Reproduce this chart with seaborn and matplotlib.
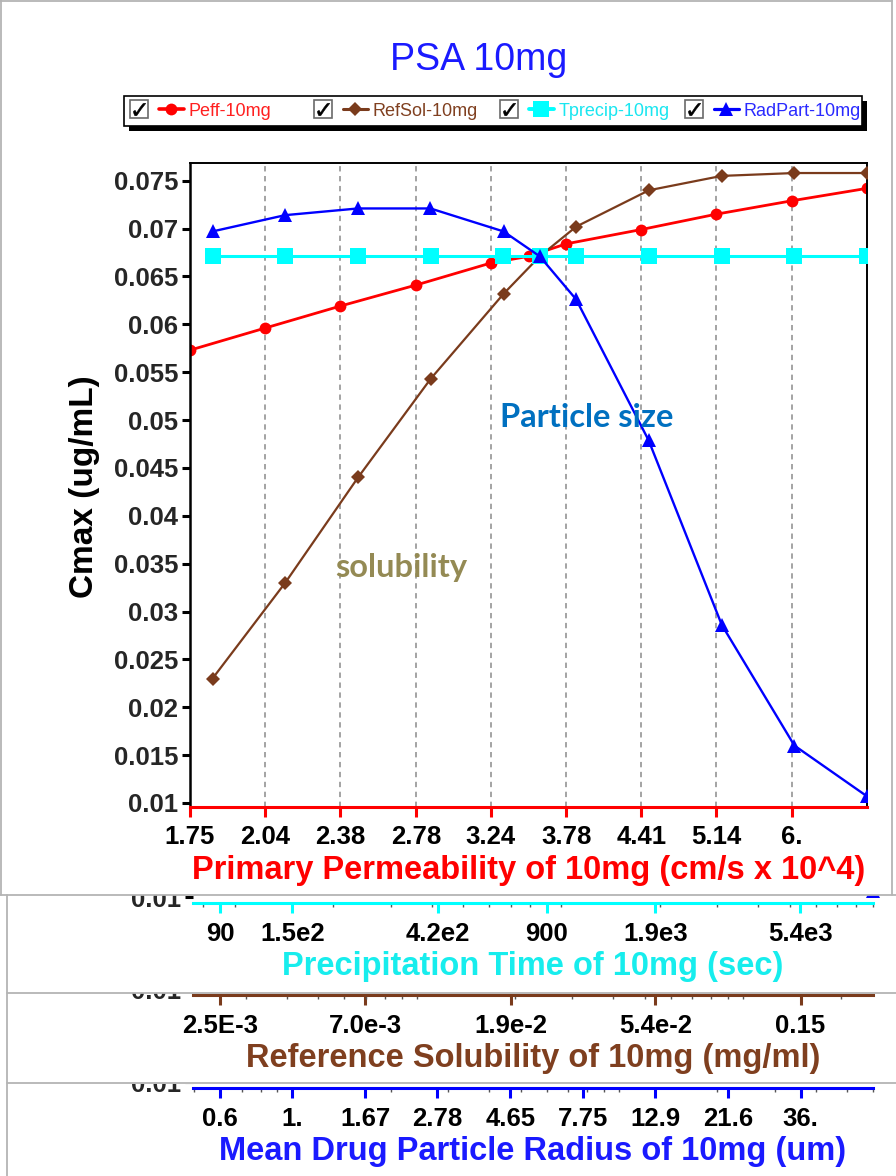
import matplotlib
matplotlib.use("Agg")
import numpy as np
import matplotlib.pyplot as plt
import seaborn as sns
from matplotlib.lines import Line2D
from matplotlib.patches import Rectangle
from matplotlib.transforms import Bbox, TransformedBbox, blended_transform_factory
from matplotlib.ticker import NullLocator, NullFormatter, LogLocator
from matplotlib.legend_handler import HandlerTuple

sns.set_style("white")
plt.rcParams['font.family'] = ['Liberation Sans', 'DejaVu Sans']
plt.rcParams['mathtext.fontset'] = 'dejavusans'

# ---------------- data ----------------
chart_title = "PSA 10mg"
y_title = "Cmax (ug/mL)"
series_names = ["Peff-10mg", "RefSol-10mg", "Tprecip-10mg", "RadPart-10mg"]

peff_x = [1.75, 2.04, 2.38, 2.78, 3.24, 3.5, 3.78, 4.41, 5.14, 6.0, 7.0]
peff_cmax = [0.0573, 0.0596, 0.0619, 0.0641, 0.0664, 0.0671, 0.0684, 0.0699, 0.0715, 0.0729, 0.0742]

refsol_x = [0.0025, 0.00417, 0.00696, 0.0116, 0.0194, 0.025, 0.0323, 0.0539, 0.0899, 0.150, 0.25]
refsol_cmax = [0.0230, 0.0330, 0.0440, 0.0543, 0.0632, 0.0671, 0.0702, 0.0740, 0.0755, 0.0758, 0.0758]

tprecip_x = [90, 150, 250, 418, 697, 900, 1162, 1939, 3234, 5394, 9000]
tprecip_cmax = [0.0671, 0.0671, 0.0671, 0.0671, 0.0671, 0.0671, 0.0671, 0.0671, 0.0671, 0.0671, 0.0671]

radpart_x = [0.6, 1.0, 1.67, 2.78, 4.65, 6.0, 7.75, 12.9, 21.6, 36.0, 60.0]
radpart_cmax = [0.0697, 0.0714, 0.0721, 0.0721, 0.0697, 0.0671, 0.0626, 0.0479, 0.0286, 0.0160, 0.0107]

y_ticks = [0.01, 0.015, 0.02, 0.025, 0.03, 0.035, 0.04, 0.045, 0.05, 0.055, 0.06, 0.065, 0.07, 0.075]
y_tick_labels = ["0.01", "0.015", "0.02", "0.025", "0.03", "0.035", "0.04", "0.045", "0.05",
                 "0.055", "0.06", "0.065", "0.07", "0.075"]

peff_ticks = [1.75, 2.04, 2.38, 2.78, 3.24, 3.78, 4.41, 5.14, 6.0]
peff_tick_labels = ["1.75", "2.04", "2.38", "2.78", "3.24", "3.78", "4.41", "5.14", "6."]
tprecip_ticks = [90, 150, 418, 900, 1939, 5394]
tprecip_tick_labels = ["90", "1.5e2", "4.2e2", "900", "1.9e3", "5.4e3"]
refsol_ticks = [0.0025, 0.00696, 0.0194, 0.0539, 0.150]
refsol_tick_labels = ["2.5E-3", "7.0e-3", "1.9e-2", "5.4e-2", "0.15"]
radpart_ticks = [0.6, 1.0, 1.67, 2.78, 4.65, 7.75, 12.9, 21.6, 36.0]
radpart_tick_labels = ["0.6", "1.", "1.67", "2.78", "4.65", "7.75", "12.9", "21.6", "36."]

peff_axis_title = "Primary Permeability of 10mg (cm/s x 10^4)"
tprecip_axis_title = "Precipitation Time of 10mg (sec)"
refsol_axis_title = "Reference Solubility of 10mg (mg/ml)"
radpart_axis_title = "Mean Drug Particle Radius of 10mg (um)"

note_particle = "Particle size"
note_solubility = "solubility"

# ---------------- style ----------------
RED = '#ff0000'
BROWN = '#7a3b1c'
CYAN = '#00ffff'
BLUE = '#0000ff'
TICK_FS = 18.5
LABEL_FS = 23.5

W, H, DPI = 896, 1176, 100
PPU = 9574.0   # pixels per Cmax unit (shared vertical scale)

fig = plt.figure(figsize=(W / DPI, H / DPI), dpi=DPI, facecolor='white')


def rect(l, t, r, b):
    return [l / W, 1 - b / H, (r - l) / W, (b - t) / H]


def log_xlim(xs, left_px, first_px, right_px):
    lo, hi = min(xs), max(xs)
    per_px = np.log10(hi / lo) / (right_px - first_px)
    return lo / 10 ** (per_px * (first_px - left_px)), hi


series_style = {
    'peff': dict(color=RED, marker='o', markersize=8.5, linewidth=2.0),
    'refsol': dict(color=BROWN, marker='D', markersize=7, linewidth=1.6),
    'tprecip': dict(color=CYAN, marker='s', markersize=11, linewidth=2.2),
    'radpart': dict(color=BLUE, marker='^', markersize=10, linewidth=1.7),
}

# ---------------- main axes ----------------
ML, MR, MT, MB = 190, 867, 163.3, 806.5
ax = fig.add_axes(rect(ML, MT, MR, MB))
ax.set_xscale('log')
y0 = 0.01 - 3.5 / PPU
main_ylim = (y0, y0 + (MB - MT) / PPU)

sns.lineplot(x=peff_x, y=peff_cmax, ax=ax, markeredgewidth=0, **series_style['peff'])
ax.set_xlim(peff_x[0], peff_x[-1])
ax.set_ylim(*main_ylim)


def add_twin(base, xs, ys, style, left_px, first_px, right_px):
    tw = base.twiny()
    tw.set_xscale('log')
    sns.lineplot(x=xs, y=ys, ax=tw, markeredgewidth=0, **style)
    tw.set_xlim(*log_xlim(xs, left_px, first_px, right_px))
    tw.xaxis.set_visible(False)
    for sp in tw.spines.values():
        sp.set_visible(False)
    tw.set_xlabel('')
    tw.set_ylabel('')
    return tw


add_twin(ax, refsol_x, refsol_cmax, series_style['refsol'], ML, 212.5, MR)
add_twin(ax, tprecip_x, tprecip_cmax, series_style['tprecip'], ML, 212.5, MR)
add_twin(ax, radpart_x, radpart_cmax, series_style['radpart'], ML, 212.5, MR)
ax.set_ylim(*main_ylim)

ax.set_xticks(peff_ticks, peff_tick_labels, fontsize=TICK_FS, fontweight='bold')
ax.xaxis.set_minor_locator(NullLocator())
ax.set_yticks(y_ticks, y_tick_labels, fontsize=TICK_FS, fontweight='bold')
ax.tick_params(axis='x', which='major', direction='out', length=7, width=2.2, color=RED,
               labelcolor='black', pad=6.5, bottom=True, top=False)
ax.tick_params(axis='y', direction='out', length=6, width=2.2, color='black', pad=2.5,
               left=True, right=False)
ax.grid(True, axis='x', which='major', color='#8a8a8a', linestyle=(0, (3.5, 3)), linewidth=1.1)
ax.grid(False, axis='y')
for side in ('left', 'top', 'right'):
    ax.spines[side].set_color('black')
ax.spines['left'].set_linewidth(1.8)
ax.spines['top'].set_linewidth(1.4)
ax.spines['right'].set_linewidth(1.4)
ax.spines['bottom'].set_color(RED)
ax.spines['bottom'].set_linewidth(2.2)
ax.set_ylabel('')
ax.set_xlabel(peff_axis_title, color=RED, fontsize=LABEL_FS, fontweight='bold')
ax.xaxis.set_label_coords(0.5, 1 - (MB + 63.5) / H,
                          transform=blended_transform_factory(ax.transAxes, fig.transFigure))
ax.xaxis.label.set_va('center')

# ---------------- lower axis strips ----------------
SL, SR, S_FIRST = 193, 873, 220
STRIP_LIFT = 6.0   # px between strip x-axis line and the 0.01 level


def add_strip(border_y, spine_y, next_border, xs, ys, ticks, labels, color, label_color, title, own_blue):
    sax = fig.add_axes(rect(SL, border_y - 14, SR, spine_y))
    sax.set_xscale('log')
    clip = TransformedBbox(Bbox.from_extents(7 / W, 1 - next_border / H, 1.0, 1 - (border_y + 0.5) / H),
                           fig.transFigure)
    if own_blue:
        sns.lineplot(x=xs, y=ys, ax=sax, markeredgewidth=0, **series_style['radpart'])
        holder = sax
    else:
        holder = add_twin(sax, radpart_x, radpart_cmax, series_style['radpart'], SL, S_FIRST, SR)
    for ln in holder.lines:
        ln.set_clip_box(clip)
    sax.set_xlim(*log_xlim(xs, SL, S_FIRST, SR))
    yb = 0.01 - STRIP_LIFT / PPU
    ylim = (yb, yb + (spine_y - border_y + 14) / PPU)
    sax.set_ylim(*ylim)
    holder.set_ylim(*ylim)
    sax.patch.set_alpha(0)
    sax.grid(False)
    for side in ('top', 'right', 'left'):
        sax.spines[side].set_visible(False)
    sax.spines['bottom'].set_color(color)
    sax.spines['bottom'].set_linewidth(2.2)
    sax.set_xticks(ticks, labels, fontsize=TICK_FS, fontweight='bold')
    sax.xaxis.set_minor_locator(LogLocator(base=10, subs=np.arange(1, 10) * 1.0, numticks=60))
    sax.xaxis.set_minor_formatter(NullFormatter())
    sax.tick_params(axis='x', which='major', direction='out', length=7, width=2.2, color=color,
                    labelcolor='black', pad=6.5, bottom=True, top=False)
    sax.tick_params(axis='x', which='minor', direction='out', length=3, width=1.0, color='#555555',
                    bottom=True, top=False)
    sax.set_yticks([0.01], ['0.01'], fontsize=TICK_FS, fontweight='bold')
    sax.tick_params(axis='y', direction='out', length=6, width=2.2, color='black', pad=2.5,
                    left=True, right=False)
    sax.set_ylabel('')
    sax.set_xlabel(title, color=label_color, fontsize=LABEL_FS, fontweight='bold')
    sax.xaxis.set_label_coords(0.5, 1 - (spine_y + 63.5) / H,
                               transform=blended_transform_factory(sax.transAxes, fig.transFigure))
    sax.xaxis.label.set_va('center')
    for t in sax.yaxis.get_major_ticks():
        t.label1.set_clip_box(clip)
        t.label1.set_clip_on(True)
        t.tick1line.set_clip_box(clip)
        t.tick1line.set_clip_on(True)
    return sax


add_strip(894.5, 903.3, 992.7, tprecip_x, tprecip_cmax, tprecip_ticks, tprecip_tick_labels,
          CYAN, '#17eded', tprecip_axis_title, False)
add_strip(992.7, 995.3, 1083.3, refsol_x, refsol_cmax, refsol_ticks, refsol_tick_labels,
          BROWN, '#7f3f1f', refsol_axis_title, False)
add_strip(1083.3, 1088.3, H, radpart_x, radpart_cmax, radpart_ticks, radpart_tick_labels,
          BLUE, '#1a1aff', radpart_axis_title, True)

# ---------------- panel borders ----------------
BORDER = '#b4b4b4'


def hline(y, x0, x1):
    fig.add_artist(Line2D([x0 / W, x1 / W], [1 - y / H, 1 - y / H], transform=fig.transFigure,
                          color=BORDER, linewidth=1.3))


def vline(x, y0_, y1_):
    fig.add_artist(Line2D([x / W, x / W], [1 - y0_ / H, 1 - y1_ / H], transform=fig.transFigure,
                          color=BORDER, linewidth=1.3))


hline(0.7, 0, 892)
vline(1.0, 0, 894.5)
vline(892, 0, 894.5)
hline(894.5, 0, 896)
hline(992.7, 7, 896)
hline(1083.3, 7, 896)
vline(7, 894.5, H)

# ---------------- titles & notes ----------------
fig.text(479 / W, 1 - 70 / H, chart_title, ha='center', va='baseline', fontsize=27,
         color='#1a1aff')
fig.text(85 / W, 1 - 487 / H, y_title, rotation=90, ha='center', va='center',
         fontsize=24, fontweight='bold', color='black')
fig.text(500 / W, 1 - 427 / H, note_particle, ha='left', va='baseline', fontsize=23.5,
         fontweight='bold', family=['Lato', 'DejaVu Sans'], color='#0070c0')
fig.text(335 / W, 1 - 577 / H, note_solubility, ha='left', va='baseline', fontsize=23.5,
         fontweight='bold', family=['Lato', 'DejaVu Sans'], color='#948a54')

# ---------------- legend ----------------
fig.add_artist(Rectangle((129 / W, 1 - 131 / H), (867 - 129) / W, 30 / H, transform=fig.transFigure,
                         facecolor='black', edgecolor='none', zorder=1))
fig.add_artist(Rectangle((124 / W, 1 - 126 / H), (862 - 124) / W, 30 / H, transform=fig.transFigure,
                         facecolor='white', edgecolor='black', linewidth=1.2, zorder=1.5))

legend_keys = ['peff', 'refsol', 'tprecip', 'radpart']
legend_text_colors = ['#ff2020', '#804020', '#19e6f0', '#2a2aff']
legend_left_px = [126.5, 310.5, 496.5, 681.5]
LEG_FS = 13
for key, name, tcol, lx in zip(legend_keys, series_names, legend_text_colors, legend_left_px):
    st = series_style[key]
    box = Line2D([], [], ls='none', marker='s', markersize=13, markerfacecolor='white',
                 markeredgecolor='#6a6a6a', markeredgewidth=1.2)
    chk = Line2D([], [], ls='none', marker=r'$\checkmark$', markersize=9,
                 markerfacecolor='black', markeredgecolor='black', markeredgewidth=0.4)
    ser = Line2D([], [], color=st['color'], linewidth=st['linewidth'] + 0.6, marker=st['marker'],
                 markersize=st['markersize'], markeredgewidth=0)
    handle = ((box, chk), ser)
    leg = fig.legend([handle], [name], loc='center left', bbox_to_anchor=(lx / W, 1 - 111 / H),
                     frameon=False, fontsize=LEG_FS, handlelength=3.2, handletextpad=0.22,
                     borderpad=0, borderaxespad=0, numpoints=1,
                     handler_map={handle: HandlerTuple(ndivide=None, pad=0.36)})
    leg.get_texts()[0].set_color(tcol)

fig.savefig('out.png', dpi=DPI, facecolor='white')
